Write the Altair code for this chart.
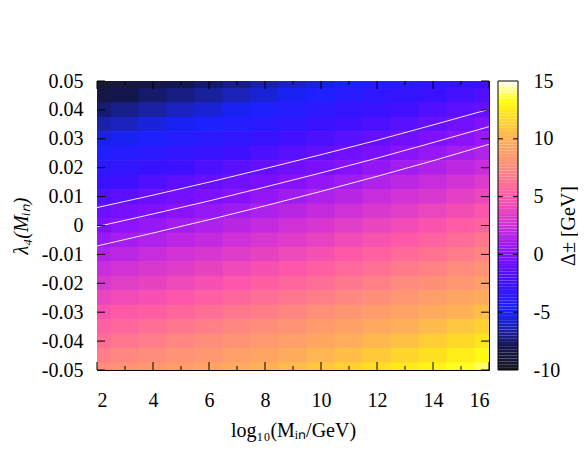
import altair as alt
import pandas as pd

# ---------------- data ----------------
x_values = [2, 3, 4, 5, 6, 7, 8, 9, 10, 11, 12, 13, 14, 15, 16]
lambda_values = [0.05, 0.045, 0.04, 0.035, 0.03, 0.025, 0.02, 0.015, 0.01, 0.005, 0.0,
                 -0.005, -0.01, -0.015, -0.02, -0.025, -0.03, -0.035, -0.04, -0.045, -0.05]

# Delta^± [GeV] per column (rows follow lambda_values, top to bottom)
delta_x02 = [-9.3, -8.4, -7.4, -6.5, -5.5, -4.6, -3.7, -2.7, -1.8, -0.8, -0.1, 0.7, 1.5, 2.3, 3.0, 3.8, 4.6, 5.4, 6.1, 6.9, 7.7]
delta_x03 = [-8.9, -8.0, -7.0, -6.1, -5.2, -4.2, -3.3, -2.4, -1.4, -0.5, 0.3, 1.1, 1.8, 2.6, 3.4, 4.2, 5.0, 5.7, 6.5, 7.3, 8.1]
delta_x04 = [-8.5, -7.5, -6.6, -5.6, -4.7, -3.7, -2.8, -1.8, -0.9, -0.2, 0.6, 1.4, 2.2, 3.0, 3.7, 4.5, 5.3, 6.1, 6.9, 7.7, 8.4]
delta_x05 = [-8.0, -7.1, -6.1, -5.2, -4.2, -3.3, -2.4, -1.4, -0.6, 0.2, 1.0, 1.8, 2.6, 3.3, 4.1, 4.9, 5.7, 6.5, 7.3, 8.1, 8.8]
delta_x06 = [-7.6, -6.7, -5.7, -4.8, -3.8, -2.9, -1.9, -1.0, -0.2, 0.6, 1.3, 2.1, 2.9, 3.7, 4.5, 5.3, 6.1, 6.9, 7.7, 8.4, 9.2]
delta_x07 = [-7.1, -6.2, -5.2, -4.3, -3.4, -2.4, -1.5, -0.7, 0.1, 0.9, 1.7, 2.5, 3.3, 4.1, 4.9, 5.7, 6.5, 7.3, 8.1, 8.9, 9.6]
delta_x08 = [-6.6, -5.7, -4.7, -3.8, -2.8, -1.9, -1.1, -0.3, 0.5, 1.3, 2.1, 2.9, 3.7, 4.5, 5.3, 6.1, 6.9, 7.7, 8.5, 9.3, 10.1]
delta_x09 = [-6.1, -5.2, -4.2, -3.3, -2.3, -1.5, -0.7, 0.1, 0.9, 1.7, 2.5, 3.3, 4.1, 4.9, 5.7, 6.5, 7.3, 8.1, 8.9, 9.7, 10.5]
delta_x10 = [-5.6, -4.6, -3.7, -2.7, -1.9, -1.1, -0.3, 0.5, 1.3, 2.1, 2.9, 3.7, 4.5, 5.3, 6.1, 6.9, 7.8, 8.6, 9.4, 10.2, 11.0]
delta_x11 = [-5.0, -4.0, -3.1, -2.3, -1.5, -0.7, 0.1, 0.9, 1.7, 2.5, 3.4, 4.2, 5.0, 5.8, 6.6, 7.4, 8.2, 9.0, 9.8, 10.6, 11.4]
delta_x12 = [-4.5, -3.5, -2.7, -1.9, -1.1, -0.3, 0.5, 1.4, 2.2, 3.0, 3.8, 4.6, 5.4, 6.2, 7.0, 7.8, 8.7, 9.5, 10.3, 11.1, 11.9]
delta_x13 = [-3.9, -3.1, -2.3, -1.5, -0.7, 0.2, 1.0, 1.8, 2.6, 3.4, 4.2, 5.0, 5.9, 6.7, 7.5, 8.3, 9.1, 9.9, 10.7, 11.6, 12.4]
delta_x14 = [-3.5, -2.7, -1.8, -1.0, -0.2, 0.6, 1.4, 2.2, 3.0, 3.9, 4.7, 5.5, 6.3, 7.1, 7.9, 8.8, 9.6, 10.4, 11.2, 12.0, 12.9]
delta_x15 = [-3.1, -2.2, -1.4, -0.6, 0.2, 1.1, 1.9, 2.7, 3.5, 4.3, 5.2, 6.0, 6.8, 7.6, 8.4, 9.3, 10.1, 10.9, 11.7, 12.6, 13.4]
delta_x16 = [-2.6, -1.8, -1.0, -0.1, 0.7, 1.5, 2.3, 3.2, 4.0, 4.8, 5.6, 6.5, 7.3, 8.1, 8.9, 9.7, 10.6, 11.4, 12.2, 13.1, 13.9]

delta_columns = [delta_x02, delta_x03, delta_x04, delta_x05, delta_x06, delta_x07, delta_x08,
                 delta_x09, delta_x10, delta_x11, delta_x12, delta_x13, delta_x14, delta_x15, delta_x16]

# white contour lines (log10 M, lambda_4)
contour_x = [2, 4, 6, 8, 10, 12, 14, 16]
contour_upper = [0.0062, 0.0105, 0.0150, 0.0197, 0.0245, 0.0295, 0.0348, 0.0402]
contour_middle = [-0.0004, 0.0040, 0.0085, 0.0133, 0.0182, 0.0233, 0.0287, 0.0342]
contour_lower = [-0.0071, -0.0026, 0.0020, 0.0068, 0.0118, 0.0170, 0.0224, 0.0281]

# axis ticks
x_major = [2, 4, 6, 8, 10, 12, 14, 16]
x_minor = [3, 5, 7, 9, 11, 13, 15]
y_major = [-0.05, -0.04, -0.03, -0.02, -0.01, 0.0, 0.01, 0.02, 0.03, 0.04, 0.05]
cbar_values = [-10, -5, 0, 5, 10, 15]
cbar_inner_ticks = [-5, 0, 5, 10]

# palette (colour bar)
pal_stops = [-10, -8, -6.5, -5, -2.5, 0, 2.5, 5, 7.5, 10, 12, 13.3, 15]
pal_colors = ["#1a1a24", "#14164e", "#1a22a8", "#1a22ff", "#3c10ff", "#8410ff", "#d030d8",
              "#ff58a8", "#ff8a7e", "#ffb058", "#ffe020", "#ffff10", "#ffffff"]
# colour-bar ramp levels (legend swatches spanning the colour scale)
cbar_step = 0.25
cbar_levels = [-10 + cbar_step * i for i in range(100)]

# ---------------- tables ----------------
grid = pd.DataFrame([
    {"x": xv, "lam": lv, "delta": col[i]}
    for xv, col in zip(x_values, delta_columns)
    for i, lv in enumerate(lambda_values)
])
contours = pd.DataFrame(
    [{"x": xv, "lam": v, "line": "upper"} for xv, v in zip(contour_x, contour_upper)]
    + [{"x": xv, "lam": v, "line": "middle"} for xv, v in zip(contour_x, contour_middle)]
    + [{"x": xv, "lam": v, "line": "lower"} for xv, v in zip(contour_x, contour_lower)]
)
xt_major = pd.DataFrame({"xt": x_major})
xt_minor = pd.DataFrame({"xt": x_minor})
yt_major = pd.DataFrame({"yt": y_major})
ramp = pd.DataFrame({"v0": cbar_levels})
cb_ticks = pd.DataFrame({"cv": cbar_inner_ticks})
one_row = pd.DataFrame({"k": [0]})

FONT = "Liberation Serif"
FS = 20
W, H = 392, 289
CB0, CB1 = 401, 421

xscale = alt.Scale(domain=[2, 16], nice=False, zero=False)
yscale = alt.Scale(domain=[-0.05, 0.05], nice=False, zero=False)
cbscale = alt.Scale(domain=[-10, 15], nice=False, zero=False)
cscale = alt.Scale(domain=pal_stops, range=pal_colors, interpolate="rgb")

common = dict(ticks=False, domain=False, grid=False, labelFont=FONT, labelFontSize=FS,
              labelFontWeight="normal", titleFont=FONT, titleFontSize=FS,
              titleFontWeight="normal", labelColor="black", titleColor="black")
xaxis = alt.Axis(values=x_major, title="log₁₀(Mᵢₙ/GeV)", labelPadding=20, titlePadding=10, **common)
yaxis = alt.Axis(values=y_major, title="λ₄(Mᵢₙ)", labelPadding=14, titlePadding=10,
                 titleFontStyle="italic",
                 labelExpr="datum.value == 0 ? '0' : (datum.value < 0 ? '-' : '') + format(abs(datum.value), '.2f')",
                 **common)
cbaxis = alt.Axis(values=cbar_values, title="Δ± [GeV]", orient="right", offset=CB1 - W,
                  labelPadding=15, titlePadding=19, titleAngle=270,
                  labelExpr="(datum.value < 0 ? '-' : '') + format(abs(datum.value), 'd')",
                  **common)

heat = alt.Chart(grid).mark_rect(clip=True).transform_calculate(
    x_lo="datum.x - 0.52", x_hi="datum.x + 0.52",
    y_lo="datum.lam - 0.0026", y_hi="datum.lam + 0.0026",
).encode(
    x=alt.X("x_lo:Q", scale=xscale, axis=xaxis),
    x2="x_hi:Q",
    y=alt.Y("y_lo:Q", scale=yscale, axis=yaxis),
    y2="y_hi:Q",
    color=alt.Color("delta:Q", scale=cscale, legend=None),
)

lines = alt.Chart(contours).mark_line(color="white", strokeWidth=1, opacity=0.9, clip=True).encode(
    x=alt.X("x:Q", scale=xscale, axis=xaxis),
    y=alt.Y("lam:Q", scale=yscale, axis=yaxis),
    detail="line:N",
)

def xticks(df, y0, y1):
    return alt.Chart(df).mark_rule(color="black", strokeWidth=1).encode(
        x=alt.X("xt:Q", scale=xscale, axis=xaxis), y=alt.value(y0), y2=alt.value(y1))

def yticks(df, x0, x1):
    return alt.Chart(df).mark_rule(color="black", strokeWidth=1).encode(
        y=alt.Y("yt:Q", scale=yscale, axis=yaxis), x=alt.value(x0), x2=alt.value(x1))

main = alt.layer(
    heat, lines,
    xticks(xt_major, 0, 8), xticks(xt_major, H, H - 8),
    xticks(xt_minor, 0, 4), xticks(xt_minor, H, H - 4),
    yticks(yt_major, 0, 8), yticks(yt_major, W, W - 8),
).resolve_scale(y="shared").resolve_axis(y="shared")

cbar_rect = alt.Chart(ramp).mark_rect().transform_calculate(
    v1=f"datum.v0 + {cbar_step}", vm=f"datum.v0 + {cbar_step / 2}"
).encode(
    y=alt.Y("v0:Q", scale=cbscale, axis=cbaxis),
    y2="v1:Q",
    x=alt.value(CB0), x2=alt.value(CB1),
    color=alt.Color("vm:Q", scale=cscale, legend=None),
)
cbar_border = alt.Chart(one_row).mark_rect(fill=None, stroke="black", strokeWidth=1).encode(
    x=alt.value(CB0), x2=alt.value(CB1), y=alt.value(0), y2=alt.value(H))

def cb_dash(x0, x1):
    return alt.Chart(cb_ticks).mark_rule(color="black", strokeWidth=1).encode(
        y=alt.Y("cv:Q", scale=cbscale, axis=cbaxis), x=alt.value(x0), x2=alt.value(x1))

cbar = alt.layer(cbar_rect, cbar_border, cb_dash(CB0, CB0 + 5), cb_dash(CB1 - 5, CB1)
                 ).resolve_scale(y="shared").resolve_axis(y="shared")

chart = alt.layer(main, cbar).resolve_scale(y="independent").properties(
    width=W, height=H,
    autosize=alt.AutoSizeParams(type="none"),
    padding={"left": 89, "top": 73, "right": 89, "bottom": 80},
).configure_view(stroke="black", strokeWidth=1)

chart.save("out.html", embed_options={"renderer": "svg", "actions": False})
